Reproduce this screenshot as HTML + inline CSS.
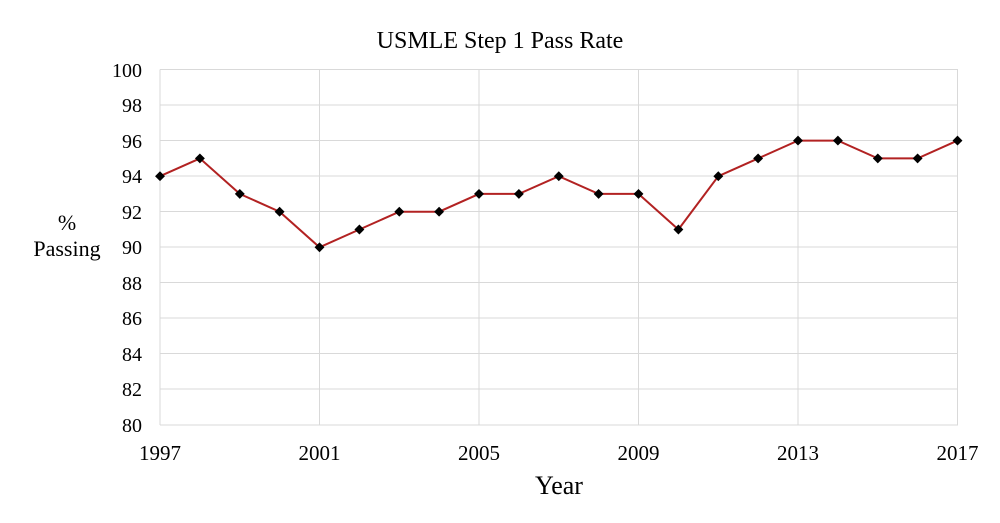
<!DOCTYPE html>
<html><head><style>body{margin:0;background:#fff}svg{display:block}text{font-family:"Liberation Serif",serif;fill:#000}</style></head><body>
<svg width="1000" height="523" viewBox="0 0 1000 523">
<defs><rect id="m" x="-3.5" y="-3.5" width="7" height="7" transform="rotate(45)" fill="#000"/></defs>
<text x="500" y="48" font-size="24" text-anchor="middle">USMLE Step 1 Pass Rate</text>
<g stroke="#d9d9d9" stroke-width="1">
<line x1="160" x2="958" y1="69.5" y2="69.5"/><line x1="160" x2="958" y1="105" y2="105"/><line x1="160" x2="958" y1="140.5" y2="140.5"/><line x1="160" x2="958" y1="176" y2="176"/><line x1="160" x2="958" y1="211.5" y2="211.5"/><line x1="160" x2="958" y1="247" y2="247"/><line x1="160" x2="958" y1="282.5" y2="282.5"/><line x1="160" x2="958" y1="318" y2="318"/><line x1="160" x2="958" y1="353.5" y2="353.5"/><line x1="160" x2="958" y1="389" y2="389"/><line x1="160" x2="958" y1="425" y2="425"/>
<line x1="160" x2="160" y1="69.5" y2="425"/><line x1="319.5" x2="319.5" y1="69.5" y2="425"/><line x1="479" x2="479" y1="69.5" y2="425"/><line x1="638.5" x2="638.5" y1="69.5" y2="425"/><line x1="798" x2="798" y1="69.5" y2="425"/><line x1="957.5" x2="957.5" y1="69.5" y2="425"/>
</g>
<g font-size="20" text-anchor="end">
<text x="142" y="77">100</text><text x="142" y="112">98</text><text x="142" y="148">96</text><text x="142" y="183">94</text><text x="142" y="219">92</text><text x="142" y="254">90</text><text x="142" y="290">88</text><text x="142" y="325">86</text><text x="142" y="361">84</text><text x="142" y="396">82</text><text x="142" y="432">80</text>
</g>
<g font-size="21" text-anchor="middle">
<text x="160" y="460">1997</text><text x="319.5" y="460">2001</text><text x="479" y="460">2005</text><text x="638.5" y="460">2009</text><text x="798" y="460">2013</text><text x="957.5" y="460">2017</text>
</g>
<text x="559" y="494" font-size="26" text-anchor="middle">Year</text>
<text x="67" y="230" font-size="22" text-anchor="middle">%</text>
<text x="67" y="256" font-size="22" text-anchor="middle">Passing</text>
<polyline fill="none" stroke="#b22222" stroke-width="2" points="160,176.2 199.9,158.4 239.8,193.9 279.6,211.7 319.5,247.3 359.4,229.5 399.3,211.7 439.1,211.7 479,193.9 518.9,193.9 558.8,176.2 598.6,193.9 638.5,193.9 678.4,229.5 718.3,176.2 758.1,158.4 798,140.6 837.9,140.6 877.8,158.4 917.6,158.4 957.5,140.6"/>
<use href="#m" x="160" y="176.2"/><use href="#m" x="199.9" y="158.4"/><use href="#m" x="239.8" y="193.9"/><use href="#m" x="279.6" y="211.7"/><use href="#m" x="319.5" y="247.3"/><use href="#m" x="359.4" y="229.5"/><use href="#m" x="399.3" y="211.7"/><use href="#m" x="439.1" y="211.7"/><use href="#m" x="479" y="193.9"/><use href="#m" x="518.9" y="193.9"/><use href="#m" x="558.8" y="176.2"/><use href="#m" x="598.6" y="193.9"/><use href="#m" x="638.5" y="193.9"/><use href="#m" x="678.4" y="229.5"/><use href="#m" x="718.3" y="176.2"/><use href="#m" x="758.1" y="158.4"/><use href="#m" x="798" y="140.6"/><use href="#m" x="837.9" y="140.6"/><use href="#m" x="877.8" y="158.4"/><use href="#m" x="917.6" y="158.4"/><use href="#m" x="957.5" y="140.6"/>
</svg>
</body></html>
